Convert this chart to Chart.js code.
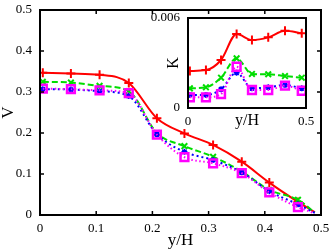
<!DOCTYPE html>
<html>
<head>
<meta charset="utf-8">
<script src="https://cdn.jsdelivr.net/npm/chart.js@4/dist/chart.umd.min.js"></script>
<style>
  html, body { margin: 0; padding: 0; background: #fff; }
  #wrap { position: relative; width: 332px; height: 251px; }
  #wrap canvas { position: absolute; left: 0; top: 0; }
</style>
</head>
<body>
<div id="wrap">
  <canvas id="main" width="332" height="251"></canvas>
  <canvas id="inset" width="332" height="251"></canvas>
</div>
<script>
// main plot: V against y/H (last point has no marker)
const yH = [0.005, 0.055, 0.106, 0.158, 0.208, 0.257, 0.308, 0.359, 0.408, 0.459, 0.489];
const vRed = [0.347, 0.345, 0.342, 0.322, 0.236, 0.199, 0.171, 0.130, 0.079, 0.032, 0.007];
const vGreen = [0.325, 0.323, 0.315, 0.302, 0.200, 0.168, 0.142, 0.106, 0.061, 0.037, 0.006];
const vBlue = [0.307, 0.306, 0.302, 0.290, 0.197, 0.154, 0.134, 0.104, 0.058, 0.026, 0.005];
const vMagenta = [0.308, 0.307, 0.304, 0.297, 0.196, 0.141, 0.126, 0.102, 0.055, 0.019, 0.004];

// inset: K against y/H
const yHInset = [0.008, 0.076, 0.140, 0.206, 0.271, 0.340, 0.411, 0.482];
const kRed = [0.00247, 0.00253, 0.0032, 0.00493, 0.00453, 0.00471, 0.00515, 0.00498];
const kGreen = [0.00131, 0.00138, 0.00202, 0.00331, 0.00227, 0.00225, 0.00213, 0.00202];
const kBlue = [0.00087, 0.00087, 0.00125, 0.00235, 0.00131, 0.00138, 0.00153, 0.00131];
const kMagenta = [0.00071, 0.00071, 0.00093, 0.00275, 0.0012, 0.0012, 0.00149, 0.00115];

const mainXTicks = [0, 0.1, 0.2, 0.3, 0.4, 0.5];
const mainYTicks = [0, 0.1, 0.2, 0.3, 0.4, 0.5];
const insetXTicks = [0, 0.5];
const insetYTicks = [0, 0.006];

Chart.defaults.font.family = "'Liberation Serif', 'Times New Roman', serif";
Chart.defaults.color = "#000";

const frameTicks = {
  id: "frameTicks",
  beforeDraw(chart, _args, opts) {
    if (!opts.fill) return;
    const { ctx, chartArea: a } = chart;
    ctx.save();
    ctx.fillStyle = "#fff";
    ctx.fillRect(a.left, a.top, a.width, a.height);
    ctx.restore();
  },
  afterDraw(chart, _args, opts) {
    const { ctx, chartArea: a, scales } = chart;
    const len = opts.length || 0;
    ctx.save();
    ctx.strokeStyle = "#000";
    if (len) {
      ctx.lineWidth = 1.5;
      ctx.beginPath();
      scales.x.ticks.forEach((t) => {
        const px = scales.x.getPixelForValue(t.value);
        ctx.moveTo(px, a.bottom);
        ctx.lineTo(px, a.bottom - len);
        ctx.moveTo(px, a.top);
        ctx.lineTo(px, a.top + len);
      });
      scales.y.ticks.forEach((t) => {
        const py = scales.y.getPixelForValue(t.value);
        ctx.moveTo(a.left, py);
        ctx.lineTo(a.left + len, py);
        ctx.moveTo(a.right, py);
        ctx.lineTo(a.right - len, py);
      });
      ctx.stroke();
    }
    ctx.lineWidth = 2;
    ctx.strokeRect(a.left, a.top, a.width, a.height);
    ctx.restore();
  },
};

const styles = [
  { color: "#ff0000", point: "cross", dash: [], r: 4.5, pw: 2, order: 3 },
  { color: "#00dd00", point: "crossRot", dash: [6, 3], r: 4, pw: 2, order: 2 },
  { color: "#0000ff", point: "star", dash: [2, 3], r: 3, pw: 1.5, order: 1 },
  { color: "#ff00ff", point: "rect", dash: [1.5, 2.5], r: 5.5, pw: 2.5, order: 0 },
];

function makeDatasets(xs, series, markLast) {
  return series.map((ys, i) => {
    const s = styles[i];
    return {
      data: xs.map((x, j) => ({ x: x, y: ys[j] })),
      borderColor: s.color,
      backgroundColor: "rgba(0,0,0,0)",
      borderWidth: 2,
      borderDash: s.dash,
      cubicInterpolationMode: "monotone",
      pointStyle: s.point,
      pointRadius: (c) => (markLast || c.dataIndex < xs.length - 1 ? s.r : 0),
      pointBorderWidth: s.pw,
      pointBorderColor: s.color,
      pointBackgroundColor: "rgba(0,0,0,0)",
      order: s.order,
    };
  });
}

function fixedTicks(list) {
  return (scale) => {
    scale.ticks = list.map((v) => ({ value: v }));
  };
}

// fixed axis box sizes, and no extra room for overhanging tick labels
function fitWidth(w) {
  return (s) => { s.width = w; s.paddingTop = 0; s.paddingBottom = 0; };
}
function fitHeight(h) {
  return (s) => { s.height = h; s.paddingLeft = 0; s.paddingRight = 0; };
}

new Chart(document.getElementById("main"), {
  type: "line",
  data: { datasets: makeDatasets(yH, [vRed, vGreen, vBlue, vMagenta], false) },
  options: {
    responsive: false,
    animation: false,
    layout: { padding: { top: 10, right: 11, left: 0, bottom: 0 } },
    plugins: {
      legend: { display: false },
      tooltip: { enabled: false },
      frameTicks: { length: 4 },
    },
    scales: {
      x: {
        type: "linear",
        min: 0,
        max: 0.5,
        afterBuildTicks: fixedTicks(mainXTicks),
        afterFit: fitHeight(36),
        grid: { display: false, drawTicks: false },
        border: { display: false },
        ticks: { padding: 6, font: { size: 13 }, maxRotation: 0 },
        title: { display: true, text: "y/H", font: { size: 17 }, padding: 0 },
      },
      y: {
        min: 0,
        max: 0.5,
        afterBuildTicks: fixedTicks(mainYTicks),
        afterFit: fitWidth(40),
        grid: { display: false, drawTicks: false },
        border: { display: false },
        ticks: { padding: 8, font: { size: 13 } },
        title: { display: true, text: "V", font: { size: 17 }, padding: { top: -2, bottom: 0 } },
      },
    },
  },
  plugins: [frameTicks],
});

new Chart(document.getElementById("inset"), {
  type: "line",
  data: { datasets: makeDatasets(yHInset, [kRed, kGreen, kBlue, kMagenta], true) },
  options: {
    responsive: false,
    animation: false,
    layout: { padding: { top: 18, right: 26, left: 0, bottom: 0 } },
    plugins: {
      legend: { display: false },
      tooltip: { enabled: false },
      frameTicks: { length: 0, fill: true },
    },
    scales: {
      x: {
        type: "linear",
        min: 0,
        max: 0.5,
        afterBuildTicks: fixedTicks(insetXTicks),
        afterFit: fitHeight(143),
        grid: { display: false, drawTicks: false },
        border: { display: false },
        ticks: { padding: 6, font: { size: 13 }, maxRotation: 0 },
        title: { display: true, text: "y/H", font: { size: 16 }, padding: { top: 0, bottom: 121 } },
      },
      y: {
        min: 0,
        max: 0.006,
        afterBuildTicks: fixedTicks(insetYTicks),
        afterFit: fitWidth(188),
        grid: { display: false, drawTicks: false },
        border: { display: false },
        ticks: { padding: 8, font: { size: 13 }, callback: (v) => (v === 0 ? "0" : v.toFixed(3)) },
        title: { display: true, text: "K", font: { size: 16 }, padding: { top: 164, bottom: 0 } },
      },
    },
  },
  plugins: [frameTicks],
});
</script>
</body>
</html>
